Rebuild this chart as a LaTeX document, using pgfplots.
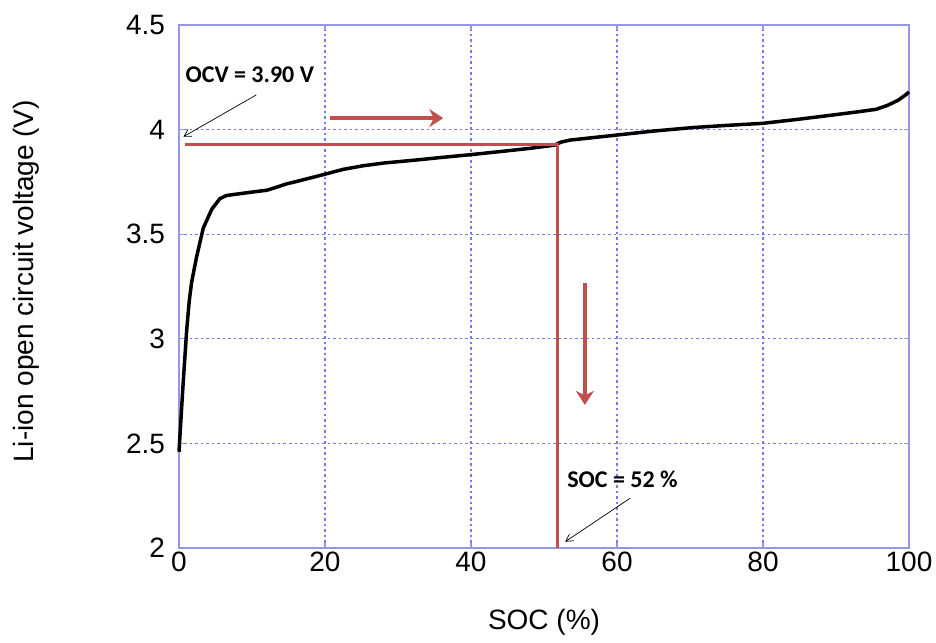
\documentclass[border=0pt]{standalone}
\usepackage{fontspec}
\setmainfont{Liberation Sans}
\newfontfamily\carlito{Carlito}
\usepackage{pgfplots}
\pgfplotsset{compat=1.18}
\usetikzlibrary{arrows.meta}
\definecolor{axblue}{RGB}{150,150,230}
\definecolor{gridblue}{RGB}{120,120,240}
\definecolor{ocvred}{RGB}{192,80,77}

\begin{document}
\begin{tikzpicture}
\begin{axis}[
    scale only axis,
    width=730pt, height=523pt,
    xmin=0, xmax=100, ymin=2, ymax=4.5,
    xtick={0,20,...,100},
    ytick={2,2.5,...,4.5},
    yticklabel style={/pgf/number format/fixed, xshift=-10.5pt},
    /pgf/number format/assume math mode=true,
    tick label style={font=\fontsize{28}{32}\selectfont},
    label style={font=\fontsize{28}{32}\selectfont},
    xlabel={SOC (\%)},
    ylabel={Li-ion open circuit voltage (V)},
    xlabel style={at={(axis description cs:0.5,-0.1415)}, anchor=center},
    ylabel style={at={(axis description cs:-0.2096,0.51)}, anchor=center},
    axis line style={axblue, line width=1.5pt},
    major tick style={axblue, line width=1.2pt},
    major tick length=5pt,
    grid=major,
    major grid style={draw=gridblue, line width=1.1pt, dash pattern=on 2.5pt off 3pt},
    clip=false,
]
% OCV curve
\addplot[black, line width=3.5pt, line join=round] coordinates {
    (0,2.46) (0.5,2.75) (1.05,3.04) (1.4,3.18) (1.73,3.27) (2.4,3.39)
    (3.33,3.53) (4.5,3.62) (5.6,3.67) (6.5,3.685) (9.7,3.70) (12,3.71)
    (12.5,3.715) (14.7,3.74) (17,3.76) (19.8,3.785) (22.5,3.81) (25.2,3.827)
    (28,3.84) (32.6,3.855) (36,3.867) (39.9,3.88) (44,3.895) (48,3.91)
    (51.5,3.926) (52.3,3.94) (53.6,3.95) (60,3.974) (65,3.993) (70.5,4.01)
    (75,4.02) (80,4.03) (85,4.05) (89.6,4.07) (93,4.085) (95.5,4.097)
    (97,4.115) (98.5,4.14) (99.5,4.165) (100,4.18)
};
% read-off lines
\addplot[ocvred, line width=3pt] coordinates {(0.8,3.931) (51.8,3.931) (51.8,2)};
% red direction arrows
\addplot[ocvred, line width=4pt, -{Stealth[length=14pt,width=18pt]}] coordinates {(20.7,4.055) (36.2,4.055)};
\addplot[ocvred, line width=4pt, -{Stealth[length=14pt,width=18pt]}] coordinates {(55.6,3.267) (55.6,2.684)};
% annotation arrows
\addplot[black, line width=0.7pt, -{Straight Barb[length=7pt,width=8pt]}] coordinates {(10.6,4.166) (0.6,3.966)};
\addplot[black, line width=0.7pt, -{Straight Barb[length=7pt,width=8pt]}] coordinates {(61.8,2.238) (52.9,2.03)};
\node[font=\carlito\bfseries\fontsize{24}{28}\selectfont] at (axis cs:9.7,4.26) {OCV = 3.90 V};
\node[font=\carlito\bfseries\fontsize{24}{28}\selectfont] at (axis cs:60.75,2.327) {SOC = 52 \%};
\end{axis}
\pgfresetboundingbox
\path ([shift={(-179pt,-94pt)}]current axis.south west) rectangle ([shift={(757pt,548pt)}]current axis.south west);
\end{tikzpicture}
\end{document}
